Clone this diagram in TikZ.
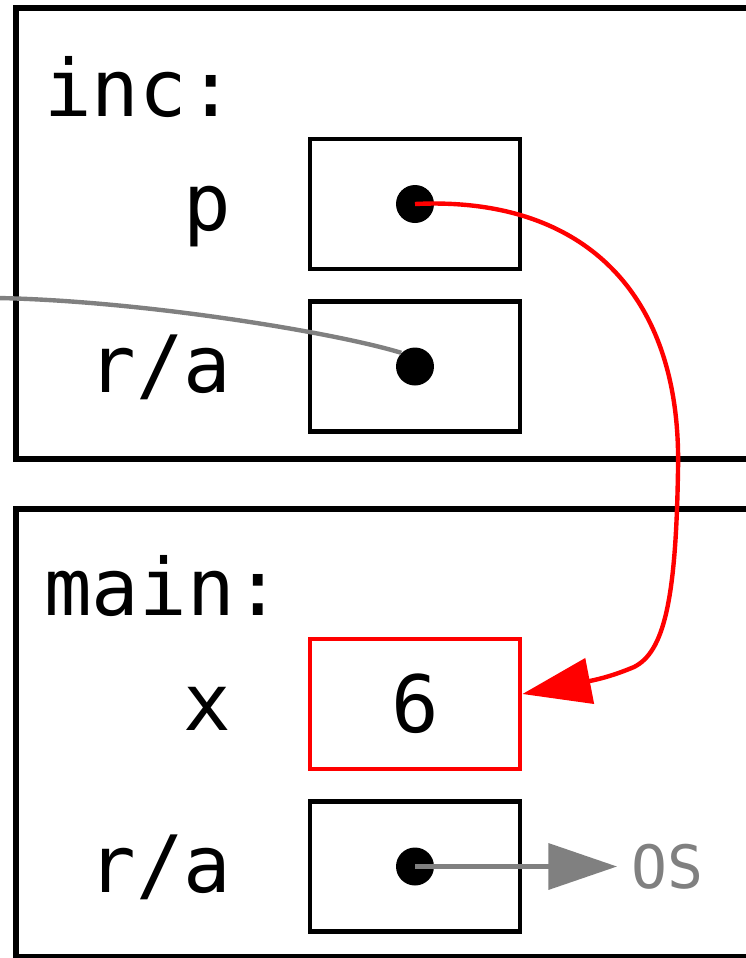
\documentclass[tikz,border=0pt]{standalone}
\usepackage{fontspec}
\setmonofont{DejaVu Sans Mono}
\usetikzlibrary{
    arrows.meta,
    calc,
    positioning
}
\definecolor{ptrred}{RGB}{255,0,0}
\definecolor{ptrgray}{RGB}{128,128,128}
\newcommand{\codefont}{\ttfamily\fontsize{45}{54}\selectfont}
\tikzset{
    frame/.style={draw=black, line width=2.9pt},
    slot/.style={draw=black, line width=2.8pt, minimum width=4.2cm,
        minimum height=2.6cm, inner sep=0pt, font=\codefont},
    hotslot/.style={slot, draw=ptrred},
    dot/.style={circle, fill=black, minimum size=0.76cm, inner sep=0pt},
    varname/.style={anchor=base east, inner sep=0pt, font=\codefont},
    framename/.style={anchor=base west, inner sep=0pt, font=\codefont},
    link/.style={line width=2.5pt, -{Triangle[length=39pt, width=26pt]}},
    wire/.style={line width=2.5pt, ptrgray},
    note/.style={text=ptrgray, inner sep=8pt,
        font=\ttfamily\fontsize{34}{40}\selectfont}
}

\begin{document}
\begin{tikzpicture}[x=0.02cm, y=-0.02cm]
    \useasboundingbox (0,0) rectangle (746,958);
    \clip (0,0) rectangle (746,958);
    % stack frames
    \draw[frame] (16,8) rectangle (800,459);
    \draw[frame] (16,509) rectangle (800,957);
    \node[framename] (incname) at (44,116) {inc:};
    \node[framename] (mainname) at (44,615) {main:};
    % inc
    \node[slot] (pbox) at (415,204) {};
    \node[slot] (rbox) at (415,366.5) {};
    \node[varname] at ($(pbox.west)+(-76,26)$) {p};
    \node[varname] at ($(rbox.west)+(-76,26)$) {r/a};
    \node[dot] (pdot) at (pbox.center) {};
    \node[dot] (rdot) at (rbox.center) {};
    % main
    \node[hotslot] (xbox) at (415,704) {6};
    \node[slot] (mbox) at (415,866.5) {};
    \node[varname] at ($(xbox.west)+(-76,26)$) {x};
    \node[varname] at ($(mbox.west)+(-76,26)$) {r/a};
    \node[dot] (mdot) at (mbox.center) {};
    \node[note, anchor=west] (os) at (617,866.5) {OS};
    % pointers
    \coordinate (caller) at (-80,300);
    \draw[wire] (caller) .. controls (60,288) and (320,328) .. (rdot.135);
    \draw[link, ptrgray] (mdot.center) -- (os.west);
    \draw[link, ptrred] (pdot.center) .. controls (580,196) and (682,290) .. (678,470)
        .. controls (676,600) and (664,652) .. (634,667)
        .. controls (615,675) and (600,679) .. ($(xbox.east)+(0,-10)$);
\end{tikzpicture}
\end{document}
